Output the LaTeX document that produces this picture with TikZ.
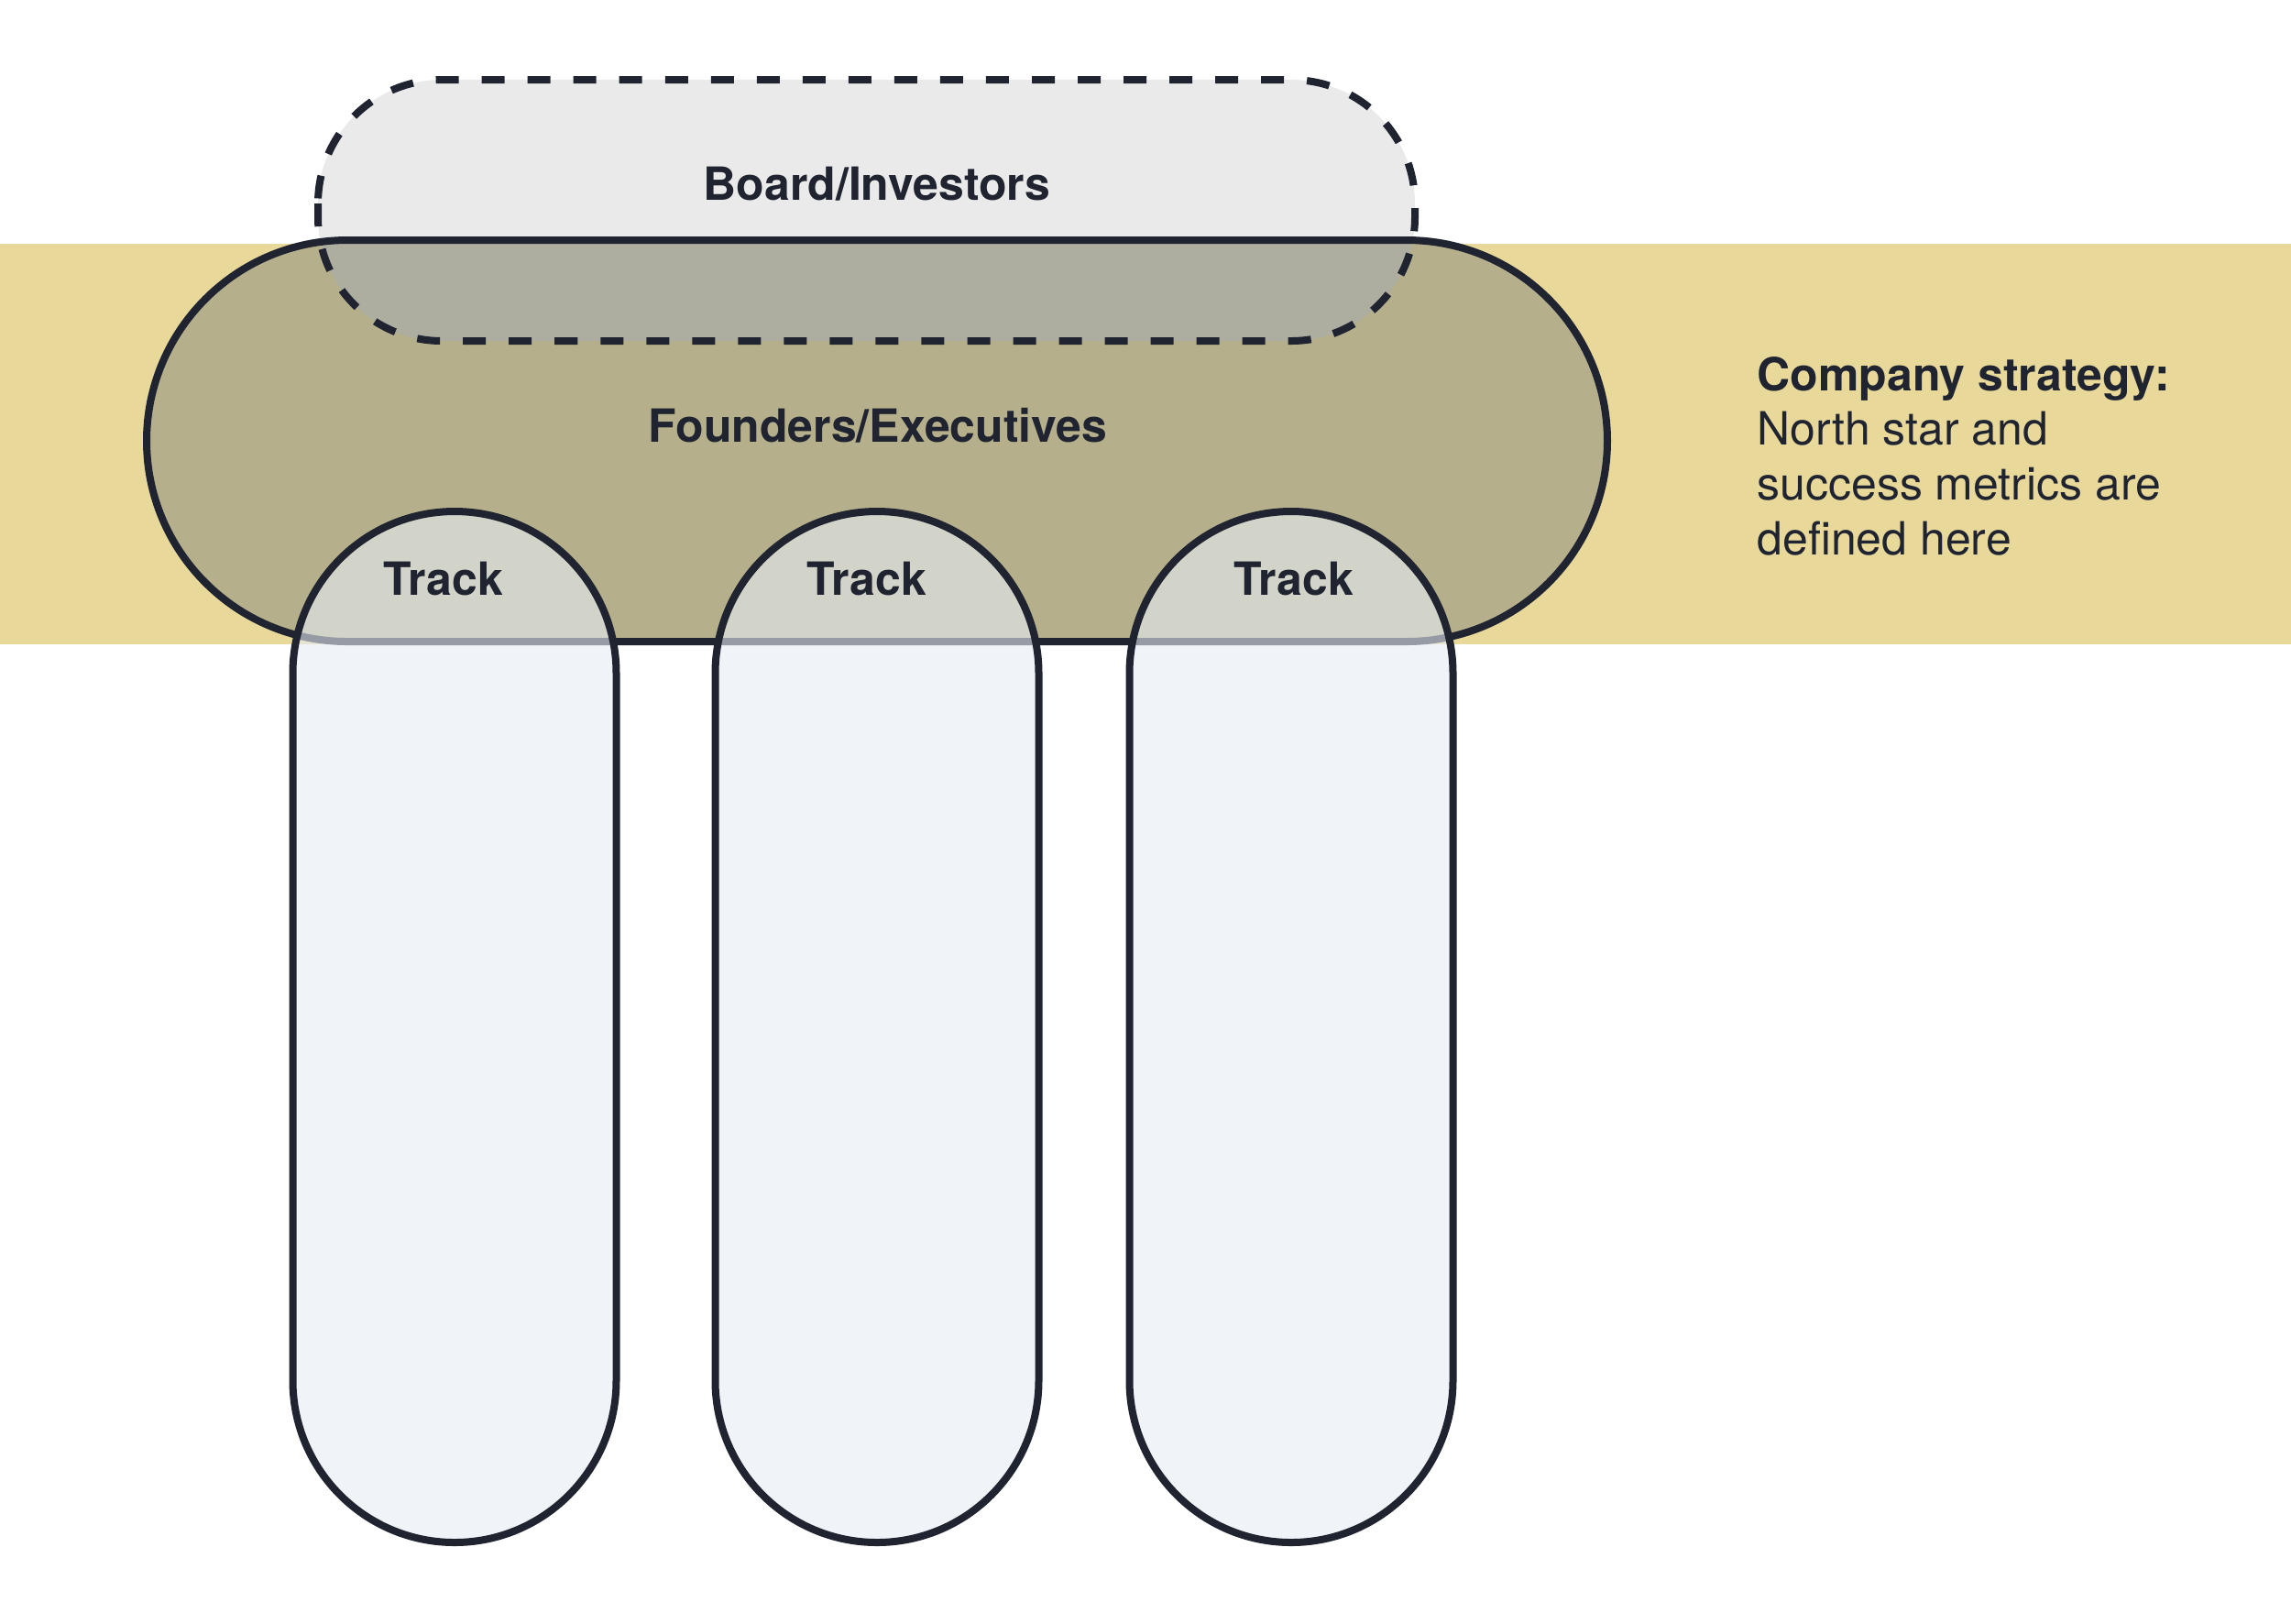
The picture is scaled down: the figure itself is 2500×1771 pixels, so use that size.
\documentclass[tikz,border=0pt]{standalone}
\usepackage{fontspec}
\setmainfont{TeX Gyre Heros}
\definecolor{inkc}{HTML}{1F2430}
\definecolor{bandc}{HTML}{E8D99B}
\definecolor{foundc}{HTML}{B5B08B}
\definecolor{boardc}{HTML}{EAEAEA}
\definecolor{overc}{HTML}{ADAE9F}
\definecolor{trackc}{HTML}{E6EBF3}
\tikzset{
  outline/.style={draw=inkc, line width=0.08cm},
  dashline/.style={draw=inkc, line width=0.08cm, dash pattern=on 0.25cm off 0.25cm},
  trackbox/.style={outline, fill=trackc, fill opacity=0.6, draw opacity=1, rounded corners=1.765cm},
  lbl/.style={font=\fontsize{14.2pt}{17pt}\selectfont\bfseries, text=inkc, inner sep=0pt, anchor=base},
  body/.style={font=\fontsize{14.2pt}{17.07pt}\selectfont, text=inkc, inner sep=0pt, anchor=base west},
}
\begin{document}
\begin{tikzpicture}[x=0.01cm, y=-0.01cm]
\useasboundingbox (0,0) rectangle (2500,1771);
\fill[white] (0,0) rectangle (2500,1771);
% band
\fill[bandc] (0,266) rectangle (2500,703);
% board fill
\fill[boardc, rounded corners=1.35cm] (347,87) rectangle (1544,372);
% founders fill
\fill[foundc, rounded corners=2.19cm] (160,262) rectangle (1754,700);
% overlap
\begin{scope}
  \clip[rounded corners=2.19cm] (160,262) rectangle (1754,700);
  \fill[overc, rounded corners=1.35cm] (347,87) rectangle (1544,372);
\end{scope}
% board outline
\draw[dashline, rounded corners=1.35cm] (347,87) rectangle (1544,372);
% founders outline
\draw[outline, rounded corners=2.19cm] (160,262) rectangle (1754,700);
% tracks
\draw[trackbox] (319.5,558) rectangle (672.5,1683);
\draw[trackbox] (780.5,558) rectangle (1133.5,1683);
\draw[trackbox] (1232.5,558) rectangle (1585.5,1683);
% labels
\node[lbl] (board) at (957,218) {Board/Investors};
\node[lbl] (founders) at (958,482) {Founders/Executives};
\node[lbl] (track1) at (484,649) {Track};
\node[lbl] (track2) at (946,649) {Track};
\node[lbl] (track3) at (1412,649) {Track};
\node[body] (s1) at (1917,426) {\bfseries Company strategy:};
\node[body] (s2) at (1917,485) {North star and};
\node[body] (s3) at (1917,545) {success metrics are};
\node[body] (s4) at (1917,605) {defined here};
\end{tikzpicture}
\end{document}
